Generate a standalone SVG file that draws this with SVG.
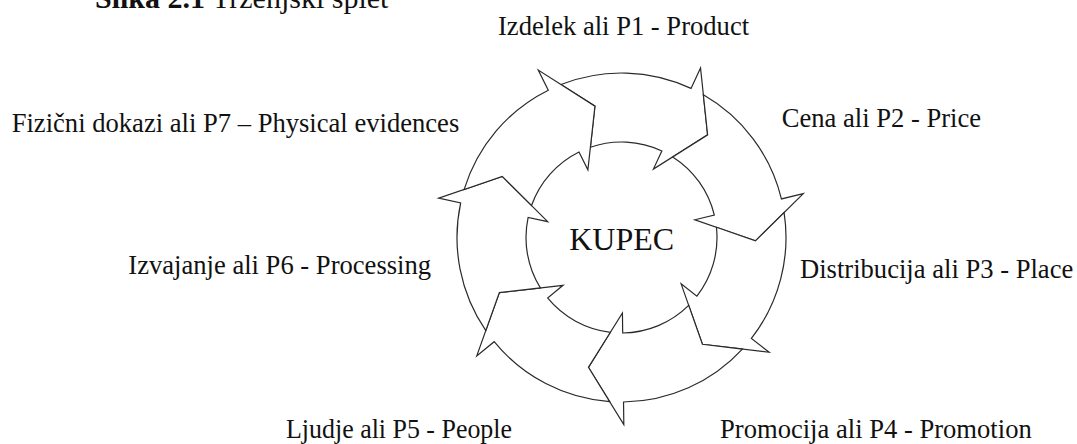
<svg xmlns="http://www.w3.org/2000/svg" xmlns:xlink="http://www.w3.org/1999/xlink" width="1077" height="444" viewBox="0 0 1077 444">
<style>
  .arrow { fill: #ffffff; stroke: #2a2a2a; stroke-width: 1.2; stroke-linejoin: miter; }
  .lbl { font-family: "Liberation Serif", "Times New Roman", serif; font-size: 26.6px; fill: #111111; }
  .center { font-family: "Liberation Serif", "Times New Roman", serif; font-size: 32px; fill: #111111; }
  .title { font-family: "Liberation Serif", "Times New Roman", serif; font-size: 30px; fill: #111111; }
</style>
<defs>
  <path id="arr" d="M -119.49 -113.06 A 164.5 164.5 0 0 1 0 -164.5 L 0 -187 L 34.68 -129.43 L 0 -75.5 L 0 -95.5 A 95.5 95.5 0 0 0 -66.34 -68.70 L -79.58 -107.81 Z"/>
</defs>
<rect width="1077" height="444" fill="#ffffff"/>
<g id="title">
  <text class="title" x="95" y="7.5"><tspan font-weight="bold">Slika 2.1</tspan> Trženjski splet</text>
</g>
<g id="cycle" transform="translate(621.5,237.5)">
  <use id="arrow-p1" class="arrow" xlink:href="#arr" href="#arr" transform="rotate(25)"/>
  <use id="arrow-p2" class="arrow" xlink:href="#arr" href="#arr" transform="rotate(76.43)"/>
  <use id="arrow-p3" class="arrow" xlink:href="#arr" href="#arr" transform="rotate(127.86)"/>
  <use id="arrow-p4" class="arrow" xlink:href="#arr" href="#arr" transform="rotate(179.29)"/>
  <use id="arrow-p5" class="arrow" xlink:href="#arr" href="#arr" transform="rotate(230.71)"/>
  <use id="arrow-p6" class="arrow" xlink:href="#arr" href="#arr" transform="rotate(282.14)"/>
  <use id="arrow-p7" class="arrow" xlink:href="#arr" href="#arr" transform="rotate(333.57)"/>
</g>
<g id="kupec">
  <text class="center" x="621.7" y="250" text-anchor="middle">KUPEC</text>
</g>
<g id="p1"><text class="lbl" x="498" y="35">Izdelek ali P1 - Product</text></g>
<g id="p2"><text class="lbl" x="781.7" y="126.7">Cena ali P2 - Price</text></g>
<g id="p3"><text class="lbl" x="800" y="278.3">Distribucija ali P3 - Place</text></g>
<g id="p4"><text class="lbl" x="720" y="438.3">Promocija ali P4 - Promotion</text></g>
<g id="p5"><text class="lbl" x="286" y="438" textLength="226" lengthAdjust="spacingAndGlyphs">Ljudje ali P5 - People</text></g>
<g id="p6"><text class="lbl" x="128.3" y="273.5">Izvajanje ali P6 - Processing</text></g>
<g id="p7"><text class="lbl" x="11.7" y="131.7">Fizični dokazi ali P7 – Physical evidences</text></g>
</svg>
